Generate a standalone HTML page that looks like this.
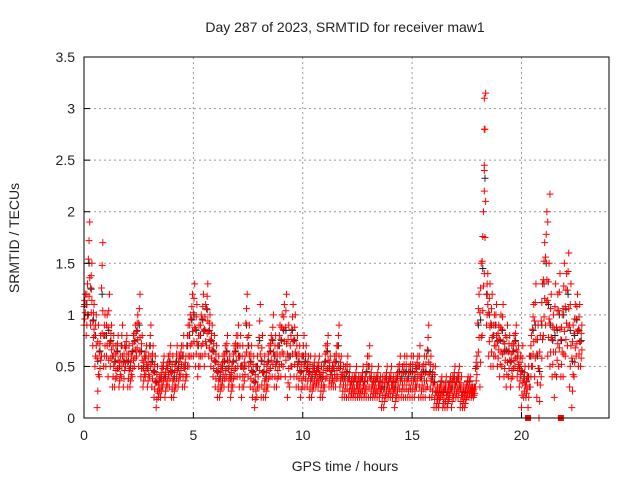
<!DOCTYPE html>
<html><head><meta charset="utf-8"><style>
body{margin:0;background:#fff}
svg text{font-family:"Liberation Sans",sans-serif;fill:#222}
</style></head><body>
<svg id="chart" width="640" height="480" viewBox="0 0 640 480" xmlns="http://www.w3.org/2000/svg">
<rect width="640" height="480" fill="#fff"/>
<text x="345" y="32" font-size="14" text-anchor="middle">Day 287 of 2023, SRMTID for receiver maw1</text>
<text transform="translate(19,238) rotate(-90)" font-size="14" text-anchor="middle">SRMTID / TECUs</text>
<text x="345" y="471" font-size="14" text-anchor="middle">GPS time / hours</text>
<g id="grid"></g><g id="marks"></g><g id="axes"></g>
</svg>
<script>
const xTicks=[0,5,10,15,20];
const yTicks=[0,0.5,1,1.5,2,2.5,3,3.5];
const yTickLabels=["0","0.5","1","1.5","2","2.5","3","3.5"];
const startHour=0, stepHour=0.1;
const highVals=[1.2,1.3,1.9,1.5,1.1,1.0,0.9,0.8,1.7,1.0,
1.0,1.2,0.9,0.8,0.7,0.8,0.6,0.9,0.7,0.8,
0.7,0.6,0.8,0.9,1.0,1.2,0.8,0.6,0.7,0.6,
0.9,0.7,0.6,0.5,0.4,0.5,0.6,0.5,0.6,0.7,
0.6,0.5,0.7,0.6,0.7,0.8,0.6,0.9,1.0,1.2,
1.3,1.1,0.9,1.0,1.2,1.1,1.3,1.0,0.9,0.8,
0.7,0.6,0.5,0.6,0.7,0.8,0.6,0.5,0.7,0.8,
0.9,0.8,0.7,0.6,1.2,0.9,0.7,0.6,0.5,0.7,
1.1,0.8,0.6,0.5,0.7,0.8,1.0,0.8,0.7,0.9,
1.0,1.1,1.2,0.9,0.8,1.1,1.0,0.8,0.7,0.6,
0.8,0.7,0.6,0.6,0.5,0.6,0.5,0.6,0.5,0.5,
0.7,0.8,0.6,0.5,0.6,0.7,0.9,0.6,0.5,0.5,
0.6,0.5,0.4,0.4,0.5,0.4,0.4,0.5,0.4,0.6,
0.7,0.5,0.4,0.4,0.5,0.4,0.4,0.4,0.5,0.4,
0.5,0.4,0.4,0.5,0.6,0.5,0.6,0.6,0.5,0.6,
0.6,0.5,0.6,0.7,0.5,0.6,0.6,0.9,0.6,0.5,
0.5,0.3,0.3,0.4,0.3,0.4,0.3,0.4,0.4,0.5,
0.4,0.5,0.4,0.3,0.3,0.4,0.4,0.3,0.3,0.6,
1.2,1.5,2.0,3.15,1.4,1.3,1.2,1.0,1.1,0.9,
1.0,1.1,0.8,0.9,0.8,0.7,0.8,0.9,0.7,0.6,
0.7,0.5,0.4,0.6,0.8,1.1,1.3,0.9,0.8,1.3,
1.7,2.0,1.5,1.2,1.0,1.3,1.2,1.4,1.0,1.5,
1.4,1.6,1.3,0.9,1.1,1.2,1.1,0.9];
const lowVals=[0.9,0.8,1.0,0.9,0.7,0.5,0.1,0.4,0.6,0.5,
0.5,0.4,0.5,0.3,0.3,0.4,0.3,0.4,0.3,0.5,
0.3,0.3,0.4,0.5,0.6,0.5,0.4,0.3,0.4,0.3,
0.4,0.3,0.2,0.1,0.2,0.2,0.3,0.2,0.3,0.3,
0.2,0.2,0.3,0.3,0.4,0.3,0.3,0.4,0.5,0.6,
0.6,0.5,0.4,0.5,0.6,0.5,0.7,0.6,0.5,0.4,
0.3,0.2,0.2,0.3,0.3,0.4,0.3,0.2,0.3,0.4,
0.4,0.3,0.2,0.3,0.5,0.4,0.3,0.2,0.1,0.2,
0.3,0.2,0.2,0.2,0.3,0.4,0.4,0.3,0.3,0.4,
0.4,0.5,0.4,0.2,0.3,0.5,0.4,0.3,0.3,0.2,
0.3,0.3,0.3,0.2,0.2,0.3,0.3,0.3,0.2,0.2,
0.3,0.4,0.3,0.3,0.3,0.3,0.4,0.3,0.2,0.2,
0.2,0.2,0.2,0.2,0.2,0.2,0.2,0.2,0.2,0.2,
0.2,0.2,0.2,0.2,0.2,0.2,0.1,0.1,0.2,0.2,
0.2,0.2,0.1,0.2,0.2,0.2,0.2,0.2,0.2,0.2,
0.2,0.2,0.3,0.2,0.2,0.2,0.2,0.3,0.2,0.2,
0.1,0.1,0.1,0.2,0.1,0.1,0.1,0.2,0.1,0.2,
0.2,0.2,0.1,0.1,0.1,0.2,0.2,0.2,0.2,0.3,
0.5,0.3,0.8,1.4,0.9,0.6,0.5,0.5,0.6,0.5,
0.4,0.5,0.4,0.3,0.4,0.3,0.4,0.5,0.4,0.3,
0.1,0.2,0.2,0.1,0.3,0.5,0.4,0.2,0.0,0.4,
0.8,0.9,0.6,0.5,0.4,0.2,0.4,0.5,0.4,0.4,
0.6,0.7,0.3,0.1,0.4,0.6,0.5,0.5];
const extraTimes=[18.3,18.3,18.3,18.3,21.3,21.2];
const extraVals=[3.1,2.8,2.4,2.2,2.17,1.9];
const zeroMarkTimes=[20.3,21.8];
const L=84,R=609,T=57,B=418,X0=0,X1=24,Y0=0,Y1=3.5;
const sx=v=>L+(v-X0)/(X1-X0)*(R-L);
const sy=v=>B-(v-Y0)/(Y1-Y0)*(B-T);
const NS="http://www.w3.org/2000/svg";
function mk(tag,parent,attrs){const e=document.createElementNS(NS,tag);for(const k in attrs)e.setAttribute(k,attrs[k]);parent.appendChild(e);return e;}
const grid=document.getElementById('grid'),marks=document.getElementById('marks'),axes=document.getElementById('axes');
xTicks.forEach(t=>{const g=mk('line',grid,{x1:sx(t),x2:sx(t),y1:T,y2:B,stroke:'#999','stroke-dasharray':'2,3','stroke-width':1});


const tk=mk('line',axes,{x1:sx(t),x2:sx(t),y1:B,y2:B-6,stroke:'#000'});


const lb=mk('text',axes,{x:sx(t),y:B+22,'font-size':14,'text-anchor':'middle'});lb.textContent=String(t);

});
yTicks.forEach((t,i)=>{const g=mk('line',grid,{x1:L,x2:R,y1:sy(t),y2:sy(t),stroke:'#999','stroke-dasharray':'2,3','stroke-width':1});


const tk=mk('line',axes,{x1:L,x2:L+6,y1:sy(t),y2:sy(t),stroke:'#000'});


const lb=mk('text',axes,{x:L-9,y:sy(t)+5,'font-size':14,'text-anchor':'end'});lb.textContent=yTickLabels[i];

});
const frame=mk('rect',axes,{x:L,y:T,width:R-L,height:B-T,fill:'none',stroke:'#000','stroke-width':1});


function plus(t,v,color){const x=sx(t),y=sy(v);const p=mk('path',marks,{d:`M${x-3.5},${y}h7M${x},${y-3.5}v7`,stroke:color,'stroke-width':1,fill:'none'});

}
highVals.forEach((a,i)=>{const t=startHour+i*stepHour,b=lowVals[i];
plus(t+0.03,(a+b)/2+0.05,'#222');});
highVals.forEach((a,i)=>{const t=startHour+i*stepHour,b=lowVals[i];
[0,0.2,0.4,0.6,0.8,1].forEach((f,j)=>plus(t+(j%3)*0.03,b+(a-b)*f,'#f00'));});
extraVals.forEach((v,i)=>plus(extraTimes[i],v,'#f00'));
zeroMarkTimes.forEach(t=>{const r=mk('rect',marks,{x:sx(t)-3,y:B-3,width:6,height:6,fill:'#f00'});

});
</script>
</body></html>
